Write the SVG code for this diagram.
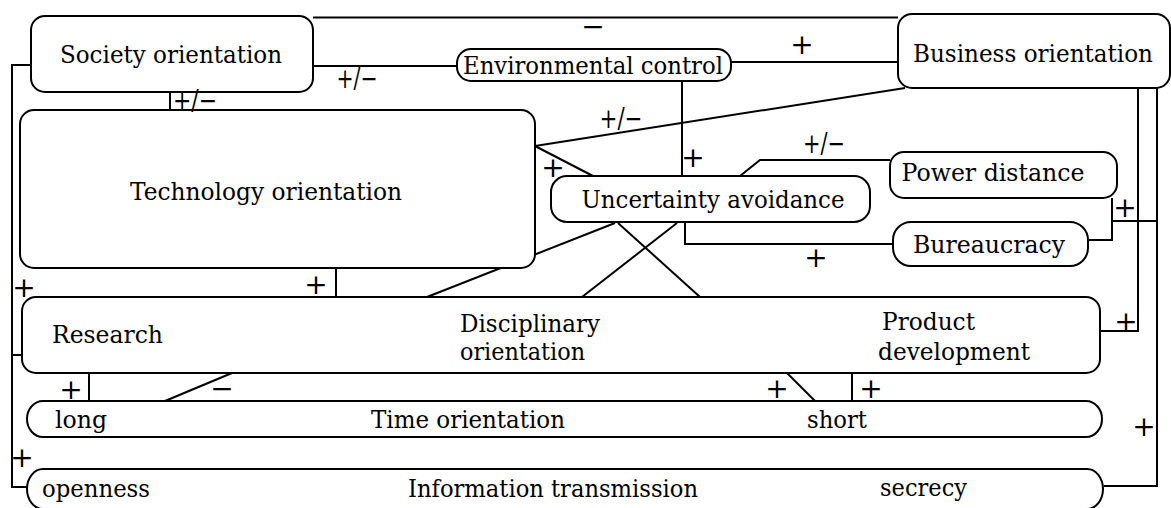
<svg xmlns="http://www.w3.org/2000/svg" width="1171" height="508" viewBox="0 0 1171 508">
  <style>
    .node { fill: #ffffff; stroke: #000000; stroke-width: 2; }
    .wire { fill: none; stroke: #000000; stroke-width: 2; }
    text { font-family: 'DejaVu Serif', 'Liberation Serif', serif; fill: #000000; }
    .lbl  { font-size: 24px; }
    .sign { font-size: 28px; }
  </style>
  <rect width="1171" height="508" fill="#ffffff"/>

  <!-- connectors -->
  <g id="connectors" class="wire">
    <!-- society / business top link -->
    <path d="M313 17.5 H898"/>
    <!-- society to environmental control -->
    <path d="M313 66 H457"/>
    <!-- environmental control to business -->
    <path d="M731 62 H898"/>
    <!-- society down to technology -->
    <path d="M170 92 V110"/>
    <!-- left spine: society to research and information transmission -->
    <path d="M31 65 H12 V487 H27"/>
    <path d="M12 355 H22"/>
    <!-- environmental control to uncertainty avoidance -->
    <path d="M682 81 V176"/>
    <!-- business to technology -->
    <path d="M905 88 L535 146"/>
    <!-- technology to uncertainty avoidance -->
    <path d="M535 146 L593 176"/>
    <!-- uncertainty avoidance to power distance -->
    <path d="M740 176 L760 160 H890"/>
    <!-- uncertainty avoidance to bureaucracy -->
    <path d="M685 222 V244 H893"/>
    <!-- power distance and bureaucracy to right spine -->
    <path d="M1112 198 V240 H1088"/>
    <path d="M1112 221 H1157"/>
    <!-- business to product development -->
    <path d="M1138 88 V331 H1100"/>
    <!-- business to information transmission -->
    <path d="M1157 88 V486 H1104"/>
    <!-- technology to research -->
    <path d="M336 268 V297"/>
    <!-- uncertainty avoidance to research box -->
    <path d="M615 223 L427 297"/>
    <path d="M618 223 L700 297"/>
    <path d="M677 223 L582 297"/>
    <!-- research box to time orientation -->
    <path d="M89 373 V401"/>
    <path d="M165 401 L232 373"/>
    <path d="M787 373 L815 401"/>
    <path d="M852 373 V401"/>
  </g>

  <!-- nodes -->
  <g id="society">
    <rect class="node" x="31" y="16" width="282" height="76" rx="14"/>
    <text class="lbl" x="171" y="63" text-anchor="middle" textLength="222" lengthAdjust="spacingAndGlyphs">Society orientation</text>
  </g>
  <g id="environmental-control">
    <rect class="node" x="457" y="49" width="274" height="32" rx="14"/>
    <text class="lbl" x="593" y="74" text-anchor="middle" textLength="260" lengthAdjust="spacingAndGlyphs">Environmental control</text>
  </g>
  <g id="business">
    <rect class="node" x="898" y="14" width="272" height="74" rx="14"/>
    <text class="lbl" x="1033" y="62" text-anchor="middle" textLength="240" lengthAdjust="spacingAndGlyphs">Business orientation</text>
  </g>
  <g id="technology">
    <rect class="node" x="20" y="110" width="515" height="158" rx="14"/>
    <text class="lbl" x="266" y="200" text-anchor="middle" textLength="272" lengthAdjust="spacingAndGlyphs">Technology orientation</text>
  </g>
  <g id="uncertainty">
    <rect class="node" x="551" y="176" width="319" height="46" rx="16"/>
    <text class="lbl" x="713" y="208" text-anchor="middle" textLength="263" lengthAdjust="spacingAndGlyphs">Uncertainty avoidance</text>
  </g>
  <g id="power-distance">
    <rect class="node" x="890" y="152" width="227" height="46" rx="14"/>
    <text class="lbl" x="993" y="181" text-anchor="middle" textLength="183" lengthAdjust="spacingAndGlyphs">Power distance</text>
  </g>
  <g id="bureaucracy">
    <rect class="node" x="893" y="222" width="195" height="44" rx="18"/>
    <text class="lbl" x="989" y="253" text-anchor="middle" textLength="152" lengthAdjust="spacingAndGlyphs">Bureaucracy</text>
  </g>
  <g id="disciplinary">
    <rect class="node" x="22" y="297" width="1078" height="76" rx="14"/>
    <text class="lbl" x="52" y="343" textLength="111" lengthAdjust="spacingAndGlyphs">Research</text>
    <text class="lbl" x="460" y="332" textLength="140" lengthAdjust="spacingAndGlyphs">Disciplinary</text>
    <text class="lbl" x="460" y="360" textLength="125" lengthAdjust="spacingAndGlyphs">orientation</text>
    <text class="lbl" x="882" y="330" textLength="93" lengthAdjust="spacingAndGlyphs">Product</text>
    <text class="lbl" x="878" y="360" textLength="152" lengthAdjust="spacingAndGlyphs">development</text>
  </g>
  <g id="time">
    <rect class="node" x="27" y="401" width="1075" height="36" rx="16" ry="18"/>
    <text class="lbl" x="55" y="428" textLength="52" lengthAdjust="spacingAndGlyphs">long</text>
    <text class="lbl" x="371" y="428" textLength="194" lengthAdjust="spacingAndGlyphs">Time orientation</text>
    <text class="lbl" x="807" y="428" textLength="60" lengthAdjust="spacingAndGlyphs">short</text>
  </g>
  <g id="information">
    <rect class="node" x="27" y="469" width="1076" height="40" rx="16" ry="20"/>
    <text class="lbl" x="42" y="497" textLength="108" lengthAdjust="spacingAndGlyphs">openness</text>
    <text class="lbl" x="408" y="497" textLength="290" lengthAdjust="spacingAndGlyphs">Information transmission</text>
    <text class="lbl" x="880" y="496" textLength="87" lengthAdjust="spacingAndGlyphs">secrecy</text>
  </g>

  <!-- influence signs -->
  <g id="signs" text-anchor="middle">
    <text class="sign" x="593" y="36">−</text>
    <text class="sign" x="357" y="88" textLength="41" lengthAdjust="spacingAndGlyphs">+/−</text>
    <text class="sign" x="802" y="54">+</text>
    <text class="sign" x="195" y="110" textLength="44" lengthAdjust="spacingAndGlyphs">+/−</text>
    <text class="sign" x="621" y="128" textLength="43" lengthAdjust="spacingAndGlyphs">+/−</text>
    <text class="sign" x="553" y="177">+</text>
    <text class="sign" x="693" y="167">+</text>
    <text class="sign" x="824" y="153" textLength="42" lengthAdjust="spacingAndGlyphs">+/−</text>
    <text class="sign" x="816" y="267">+</text>
    <text class="sign" x="1125" y="217">+</text>
    <text class="sign" x="316" y="294">+</text>
    <text class="sign" x="24" y="297">+</text>
    <text class="sign" x="1126" y="331">+</text>
    <text class="sign" x="71" y="399">+</text>
    <text class="sign" x="222" y="398">−</text>
    <text class="sign" x="777" y="398">+</text>
    <text class="sign" x="871" y="398">+</text>
    <text class="sign" x="22" y="467">+</text>
    <text class="sign" x="1144" y="436">+</text>
  </g>
</svg>
